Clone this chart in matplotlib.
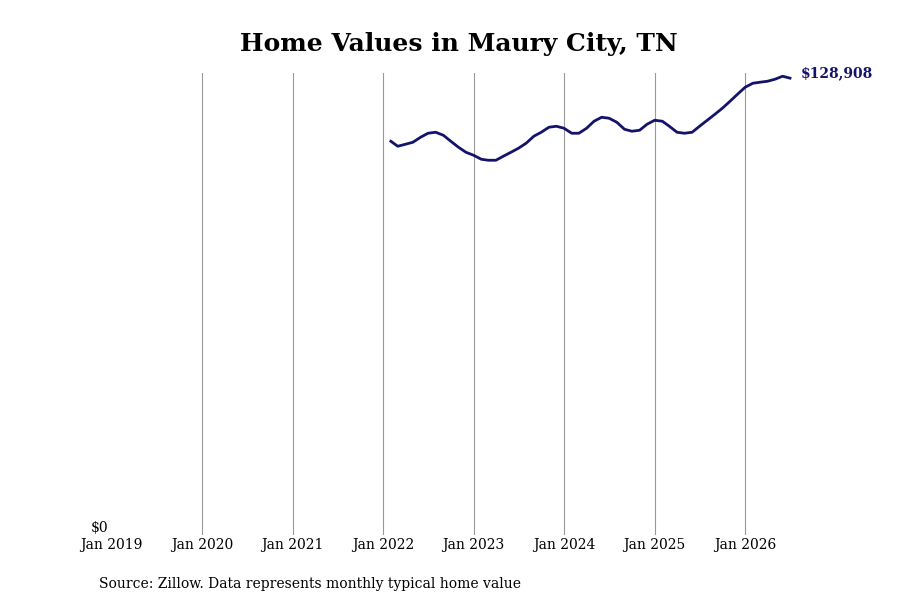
import matplotlib
matplotlib.use("Agg")
import matplotlib.pyplot as plt
import pandas as pd

values = [111108, 109698, 110262, 110826, 112236, 113364, 113646, 112800, 111108, 109416, 108006,
          107160, 106032, 105750, 105750, 106878, 108006, 109134, 110544, 112518, 113646, 115056, 115338,
          114774, 113364, 113364, 114774, 116748, 117876, 117594, 116466, 114492, 113928, 114210, 115902,
          117030, 116748, 115338, 113646, 113364, 113646, 115338, 117030, 118722, 120414, 122388, 124362,
          126336, 127464, 127746, 128028, 128592, 129438, 128908]
dates = pd.date_range(end="2026-07-01", periods=len(values), freq="MS")
tick_years = list(range(2019, 2027))
tick_labels = [f"Jan {y}" for y in tick_years]

plt.rcParams['font.family'] = ['DejaVu Serif']
fig = plt.figure(figsize=(9, 6), dpi=100)
ax = fig.add_axes([0.124, 0.108, 0.759, 0.77])
for y in tick_years[1:]:
    ax.axvline(pd.Timestamp(f"{y}-01-01"), color="#999999", lw=0.8, zorder=0)
ax.plot(dates, values, color="#14136b", lw=2)
ax.set_xlim(pd.Timestamp("2019-01-01"), pd.Timestamp("2026-07-20"))
ax.set_ylim(0, 130300)
ax.set_xticks([pd.Timestamp(f"{y}-01-01") for y in tick_years])
ax.set_xticklabels(tick_labels, fontsize=10)
ax.set_yticks([0]); ax.set_yticklabels(["$0"], fontsize=10, va="bottom")
ax.tick_params(length=0, pad=2)
for s in ax.spines.values():
    s.set_visible(False)
ax.text(dates[-1] + pd.Timedelta(days=45), values[-1] + 1500, f"${values[-1]:,}", color="#14136b",
        fontsize=10, fontweight="bold", va="center", ha="left")
fig.text(0.51, 0.915, "Home Values in Maury City, TN", ha="center", fontsize=18, fontweight="bold")
fig.text(0.11, 0.02, "Source: Zillow. Data represents monthly typical home value", fontsize=10)
fig.savefig("out.png")
